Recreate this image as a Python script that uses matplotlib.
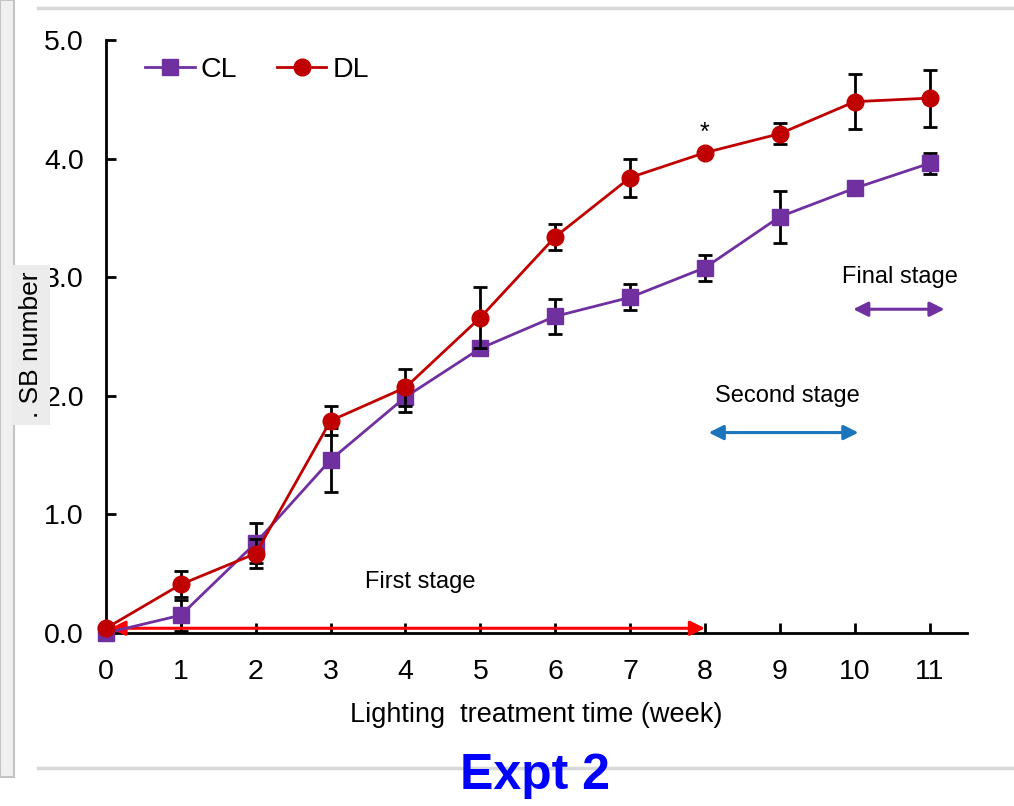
import matplotlib
matplotlib.use("Agg")
import matplotlib.pyplot as plt
from matplotlib.lines import Line2D
from matplotlib.patches import Rectangle

plt.rcParams["font.family"] = ["Liberation Sans", "DejaVu Sans"]

# data
weeks = [0, 1, 2, 3, 4, 5, 6, 7, 8, 9, 10, 11]
cl_mean = [0.00, 0.15, 0.76, 1.46, 1.99, 2.40, 2.67, 2.83, 3.08, 3.51, 3.75, 3.96]
cl_err = [0.00, 0.13, 0.17, 0.27, 0.13, 0.00, 0.15, 0.11, 0.11, 0.22, 0.06, 0.09]
dl_mean = [0.04, 0.41, 0.67, 1.79, 2.07, 2.66, 3.34, 3.84, 4.05, 4.21, 4.48, 4.51]
dl_err = [0.00, 0.11, 0.12, 0.12, 0.16, 0.26, 0.11, 0.16, 0.02, 0.09, 0.23, 0.24]
yticks = [0.0, 1.0, 2.0, 3.0, 4.0, 5.0]

PURPLE = "#7030a0"
DARKRED = "#c00000"
RED = "#ff0000"
BLUE = "#1a75bc"

fig = plt.figure(figsize=(10.14, 8.06), dpi=100, facecolor="white")

# screenshot frame bits
fig.add_artist(Rectangle((0, 1 - 777 / 806), 14 / 1014, 777 / 806,
                         transform=fig.transFigure, facecolor="#f0f0f0",
                         edgecolor="#c4c4c4", lw=1.5))
fig.add_artist(Line2D([38 / 1014, 1], [1 - 8 / 806] * 2, color="#d8d8d8", lw=2.5))
fig.add_artist(Line2D([38 / 1014, 1], [1 - 768 / 806] * 2, color="#d8d8d8", lw=2.5))

ax = fig.add_axes([106 / 1014, 1 - 633 / 806, 861 / 1014, 593 / 806])
ax.set_xlim(0, 11.5)
ax.set_ylim(0, 5)

ax.errorbar(weeks, cl_mean, yerr=cl_err, color=PURPLE, lw=2, marker="s",
            ms=11, ecolor="black", elinewidth=2, capsize=5, capthick=2,
            clip_on=False, zorder=3)
ax.errorbar(weeks, dl_mean, yerr=dl_err, color=DARKRED, lw=2, marker="o",
            ms=12, ecolor="black", elinewidth=2, capsize=5, capthick=2,
            clip_on=False, zorder=4)

for s in ["top", "right"]:
    ax.spines[s].set_visible(False)
for s in ["left", "bottom"]:
    ax.spines[s].set_linewidth(2)
ax.set_xticks(weeks)
ax.set_yticks(yticks)
ax.set_yticklabels([f"{v:.1f}" for v in yticks])
ax.tick_params(direction="in", length=7, width=2, labelsize=20.5)
ax.tick_params(axis="y", pad=16)
ax.tick_params(axis="x", pad=19)
ax.set_xlabel("Lighting  treatment time (week)", fontsize=19.5, labelpad=12)

handles = [Line2D([], [], color=PURPLE, lw=2, marker="s", ms=11),
           Line2D([], [], color=DARKRED, lw=2, marker="o", ms=12)]
ax.legend(handles, ["CL", "DL"], loc="center left",
          bbox_to_anchor=(0.045, 0.95), ncol=2, frameon=False, fontsize=20.5,
          handlelength=1.75, columnspacing=1.4, handletextpad=0.2,
          borderaxespad=0, borderpad=0)

# stage annotations
ax.text(8, 4.22, "*", ha="center", va="center", fontsize=18)
ax.annotate("", xy=(0.06, 0.04), xytext=(8.0, 0.04),
            arrowprops=dict(arrowstyle="<|-|>", color=RED, lw=2.2,
                            mutation_scale=22, shrinkA=0, shrinkB=0))
ax.text(4.2, 0.43, "First stage", ha="center", va="center", fontsize=17)
ax.annotate("", xy=(8.05, 1.69), xytext=(10.05, 1.69),
            arrowprops=dict(arrowstyle="<|-|>", color=BLUE, lw=2.2,
                            mutation_scale=22, shrinkA=0, shrinkB=0))
ax.text(9.1, 2.0, "Second stage", ha="center", va="center", fontsize=17)
ax.annotate("", xy=(9.98, 2.73), xytext=(11.2, 2.73),
            arrowprops=dict(arrowstyle="<|-|>", color=PURPLE, lw=2.2,
                            mutation_scale=22, shrinkA=0, shrinkB=0))
ax.text(10.6, 3.0, "Final stage", ha="center", va="center", fontsize=17)

# cut-off y label in a grey box
fig.text(31 / 1014, 1 - 345 / 806, ". SB number", rotation=90, ha="center",
         va="center", fontsize=19,
         bbox=dict(boxstyle="square,pad=0.25", facecolor="#ececec", edgecolor="none"))

fig.text(535 / 1014, 1 - 776 / 806, "Expt 2", ha="center", va="center",
         fontsize=36, fontweight="bold", color="#0000ff")

fig.savefig("out.png", dpi=100, facecolor="white")
